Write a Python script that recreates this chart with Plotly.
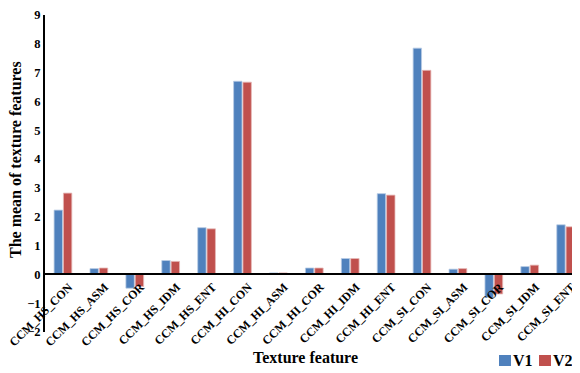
import plotly.graph_objects as go

categories = ["CCM_HS_CON", "CCM_HS_ASM", "CCM_HS_COR", "CCM_HS_IDM", "CCM_HS_ENT",
              "CCM_HI_CON", "CCM_HI_ASM", "CCM_HI_COR", "CCM_HI_IDM", "CCM_HI_ENT",
              "CCM_SI_CON", "CCM_SI_ASM", "CCM_SI_COR", "CCM_SI_IDM", "CCM_SI_ENT"]
v1 = [2.23, 0.20, -0.48, 0.48, 1.62, 6.70, 0.05, 0.22, 0.55, 2.80, 7.85, 0.18, -0.80, 0.27, 1.72]
v2 = [2.82, 0.22, -0.42, 0.45, 1.58, 6.67, 0.05, 0.22, 0.55, 2.75, 7.08, 0.20, -0.68, 0.32, 1.65]
y_ticks = [-2, -1, 0, 1, 2, 3, 4, 5, 6, 7, 8, 9]
series_names = ["V1", "V2"]
series_colors = ["#4F81BD", "#C0504D"]

FONT = "Liberation Serif"
fig = go.Figure()
fig.add_trace(go.Bar(x=categories, y=v1, name=series_names[0],
                     marker=dict(color=series_colors[0], line=dict(color="#B8CCE4", width=0.8))))
fig.add_trace(go.Bar(x=categories, y=v2, name=series_names[1],
                     marker=dict(color=series_colors[1], line=dict(color="#E6B9B8", width=0.8))))

# plot area in page pixels (page has an 8px body offset)
L, R, T, B = 45, 580, 15, 332
def px(x):
    return (x - L) / (R - L)
def py(y):
    return (B - y) / (B - T)

ymin, ymax = -2, 9
shapes = []
annotations = [
    dict(text="Texture feature", xref="paper", yref="paper", x=px(305), y=py(357),
         xanchor="center", yanchor="middle", showarrow=False,
         font=dict(family=FONT, size=16, color="black", weight="bold")),
    dict(text="The mean of texture features", xref="paper", yref="paper", x=px(15), y=py(160),
         textangle=-90, showarrow=False, xanchor="center", yanchor="middle",
         font=dict(family=FONT, size=16, color="black", weight="bold")),
]
# custom compact legend
leg_x = [499, 539]
for name, col, lx in zip(series_names, series_colors, leg_x):
    shapes.append(dict(type="rect", xref="paper", yref="paper",
                       x0=px(lx), x1=px(lx + 12), y0=py(355), y1=py(366),
                       fillcolor=col, line=dict(width=0)))
    annotations.append(dict(text=name, xref="paper", yref="paper", x=px(lx + 13), y=py(360.5),
                            xanchor="left", yanchor="middle", showarrow=False, borderpad=0,
                            font=dict(family=FONT, size=16, color="black", weight="bold")))

fig.update_layout(
    width=572, height=365,
    margin=dict(l=L - 8, r=0, t=T - 8, b=365 - (B - 8), autoexpand=False),
    paper_bgcolor="white", plot_bgcolor="white",
    barmode="group", bargap=0.48, bargroupgap=0.1,
    font=dict(family=FONT, color="black"),
    showlegend=False,
    xaxis=dict(anchor="free", position=(0 - ymin) / (ymax - ymin),
               range=[-0.5, 14.4],
               showline=True, linecolor="black", linewidth=2,
               tickangle=-45, ticks="", showgrid=False, automargin=False,
               ticklabelshift=6,
               tickfont=dict(family=FONT, size=12, color="black", weight="bold")),
    yaxis=dict(range=[ymin, ymax], tickvals=y_ticks, showgrid=False, zeroline=False,
               showline=True, linecolor="black", linewidth=2, ticks="", automargin=False,
               tickfont=dict(family=FONT, size=12.5, color="black", weight="bold")),
    shapes=shapes,
    annotations=annotations,
)
fig.write_html("out.html")
